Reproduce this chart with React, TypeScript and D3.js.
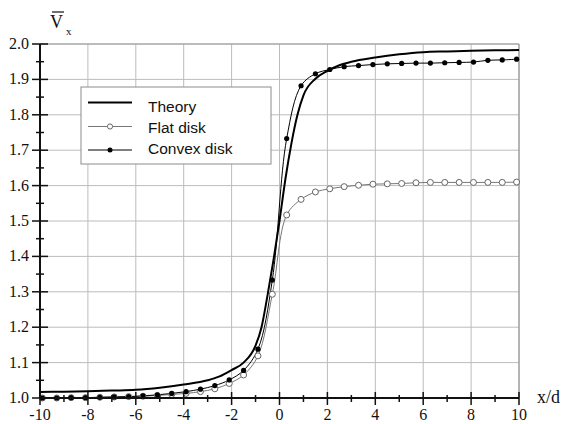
import React from 'react'
import * as d3 from 'd3'

// theory curve
const theoryX = [-10, -9, -8, -7, -6, -5, -4, -3, -2.5, -2, -1.5, -1, -0.75, -0.5, -0.25, 0, 0.25, 0.5, 0.75, 1, 1.5, 2, 2.5, 3, 4, 5, 6, 7, 8, 9, 10]
const theoryY = [1.017, 1.018, 1.019, 1.021, 1.023, 1.029, 1.038, 1.05, 1.061, 1.079, 1.1, 1.148, 1.2, 1.29, 1.39, 1.5, 1.62, 1.72, 1.8, 1.855, 1.902, 1.924, 1.94, 1.95, 1.962, 1.971, 1.977, 1.979, 1.981, 1.982, 1.983]

// measured points (both disks share the same x stations)
const measX = [-9.9, -9.3, -8.7, -8.1, -7.5, -6.9, -6.3, -5.7, -5.1, -4.5, -3.9, -3.3, -2.7, -2.1, -1.5, -0.9, -0.3, 0.3, 0.9, 1.5, 2.1, 2.7, 3.3, 3.9, 4.5, 5.1, 5.7, 6.3, 6.9, 7.5, 8.1, 8.7, 9.3, 9.9]
const flatY = [1.0, 1.0, 1.001, 1.001, 1.002, 1.003, 1.004, 1.005, 1.007, 1.01, 1.013, 1.018, 1.026, 1.041, 1.065, 1.119, 1.293, 1.517, 1.561, 1.582, 1.591, 1.597, 1.601, 1.604, 1.605, 1.606, 1.608, 1.609, 1.609, 1.609, 1.609, 1.609, 1.609, 1.61]
const convexY = [1.0, 1.0, 1.001, 1.001, 1.002, 1.003, 1.004, 1.006, 1.009, 1.013, 1.018, 1.025, 1.035, 1.051, 1.078, 1.138, 1.333, 1.733, 1.882, 1.916, 1.928, 1.936, 1.939, 1.942, 1.944, 1.945, 1.946, 1.946, 1.947, 1.948, 1.949, 1.954, 1.955, 1.957]

const xTicks = [-10, -8, -6, -4, -2, 0, 2, 4, 6, 8, 10]
const xMinor = [-9, -7, -5, -3, -1, 1, 3, 5, 7, 9]
const yTicks = [1.0, 1.1, 1.2, 1.3, 1.4, 1.5, 1.6, 1.7, 1.8, 1.9, 2.0]
const yMinor = [1.05, 1.15, 1.25, 1.35, 1.45, 1.55, 1.65, 1.75, 1.85, 1.95]

const W = 562, H = 424
const serif = '"Liberation Serif", "DejaVu Serif", serif'
const sans = '"Liberation Sans", Arial, sans-serif'

export default function App() {
  const x = d3.scaleLinear().domain([-10, 10]).range([40, 519])
  const y = d3.scaleLinear().domain([1, 2]).range([398, 44])

  const theoryLine = d3.line<[number, number]>()
    .x(d => x(d[0]))
    .y(d => y(d[1]))
    .curve(d3.curveMonotoneX)
  const measLine = d3.line<[number, number]>()
    .x(d => x(d[0]))
    .y(d => y(d[1]))
    .curve(d3.curveCatmullRom.alpha(0.5))

  const theory = theoryX.map((v, i) => [v, theoryY[i]] as [number, number])
  const flat = measX.map((v, i) => [v, flatY[i]] as [number, number])
  const convex = measX.map((v, i) => [v, convexY[i]] as [number, number])

  const lx0 = 88, lx1 = 132
  const legend = [
    { label: 'Theory', ly: 102.5, ty: 112, kind: 'theory' },
    { label: 'Flat disk', ly: 126.5, ty: 133, kind: 'flat' },
    { label: 'Convex disk', ly: 150, ty: 154, kind: 'convex' },
  ]

  return (
    <svg width={W} height={H} style={{ position: 'absolute', left: 0, top: 0, background: '#fff' }}>
      <rect x={0} y={0} width={W} height={H} fill="#fff" />
      {/* grid */}
      <g stroke="#bcbcbc" strokeWidth={1}>
        {xTicks.slice(1).map(t => (
          <line key={'gx' + t} x1={x(t)} x2={x(t)} y1={y(1)} y2={y(2)} />
        ))}
        {yTicks.slice(1).map(t => (
          <line key={'gy' + t} x1={x(-10)} x2={x(10)} y1={y(t)} y2={y(t)} />
        ))}
      </g>
      <line x1={x(10)} x2={x(10)} y1={y(1)} y2={y(2)} stroke="#999" strokeWidth={1.2} />
      <line x1={x(-10)} x2={x(10)} y1={y(2)} y2={y(2)} stroke="#999" strokeWidth={1.2} />

      {/* legend */}
      <rect x={81} y={87} width={190} height={77} fill="#fff" stroke="#8c8c8c" strokeWidth={1} />
      {legend.map(l => (
        <g key={l.label}>
          <line x1={lx0} x2={lx1} y1={l.ly} y2={l.ly}
            stroke={l.kind === 'flat' ? '#777' : '#000'}
            strokeWidth={l.kind === 'theory' ? 2 : 1} />
          {l.kind === 'flat' && <circle cx={(lx0 + lx1) / 2} cy={l.ly} r={2.6} fill="#fff" stroke="#666" strokeWidth={1} />}
          {l.kind === 'convex' && <circle cx={(lx0 + lx1) / 2} cy={l.ly} r={2.5} fill="#000" />}
          <text x={148} y={l.ty} fontFamily={sans} fontSize={15.5} fill="#111">{l.label}</text>
        </g>
      ))}

      {/* curves */}
      <path d={measLine(flat) || ''} fill="none" stroke="#777" strokeWidth={1} />
      <path d={measLine(convex) || ''} fill="none" stroke="#000" strokeWidth={1} />
      <path d={theoryLine(theory) || ''} fill="none" stroke="#000" strokeWidth={2} />
      {flat.map((d, i) => (
        <circle key={'f' + i} cx={x(d[0])} cy={y(d[1])} r={3} fill="#fff" stroke="#666" strokeWidth={1} />
      ))}
      {convex.map((d, i) => (
        <circle key={'c' + i} cx={x(d[0])} cy={y(d[1])} r={2.6} fill="#000" />
      ))}

      {/* axes */}
      <g stroke="#111">
        <line x1={x(-10)} x2={x(-10)} y1={y(1)} y2={y(2)} strokeWidth={2} />
        <line x1={x(-10)} x2={x(10)} y1={y(1)} y2={y(1)} strokeWidth={2} />
        {yTicks.map(t => (
          <line key={'yt' + t} x1={x(-10) - 8} x2={x(-10) + 8} y1={y(t)} y2={y(t)} strokeWidth={1.5} />
        ))}
        {yMinor.map(t => (
          <line key={'ym' + t} x1={x(-10) - 4} x2={x(-10) + 4} y1={y(t)} y2={y(t)} strokeWidth={1.5} />
        ))}
        {xTicks.map(t => (
          <line key={'xt' + t} x1={x(t)} x2={x(t)} y1={y(1) - 6} y2={y(1) + 7} strokeWidth={1.5} />
        ))}
        {xMinor.map(t => (
          <line key={'xm' + t} x1={x(t)} x2={x(t)} y1={y(1) - 3} y2={y(1) + 4} strokeWidth={1.5} />
        ))}
      </g>
      {yTicks.map(t => (
        <text key={'yl' + t} x={29} y={y(t) + 5} textAnchor="end" fontFamily={serif} fontSize={16} fill="#111">
          {t.toFixed(1)}
        </text>
      ))}
      {xTicks.map(t => (
        <text key={'xl' + t} x={x(t)} y={420} textAnchor="middle" fontFamily={serif} fontSize={16} fill="#111">
          {t}
        </text>
      ))}
      <text x={537} y={403} fontFamily={serif} fontSize={18} fill="#111">x/d</text>

      {/* y title: V with overbar, subscript x */}
      <text x={50} y={28} fontFamily={serif} fontSize={18} fill="#111">V</text>
      <line x1={52} x2={64} y1={12} y2={12} stroke="#111" strokeWidth={1.2} />
      <text x={66} y={35} fontFamily={serif} fontSize={11} fill="#111">x</text>
    </svg>
  )
}
